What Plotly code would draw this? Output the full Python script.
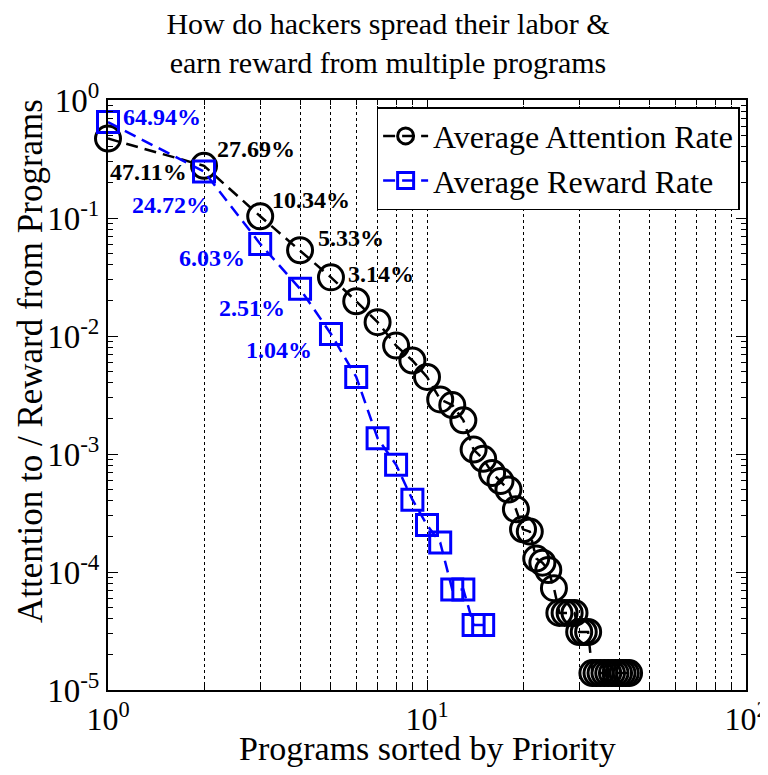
import math
import plotly.graph_objects as go

# ---- data ----
attention_x = list(range(1, 44))
attention_y = [0.4711, 0.2769, 0.1034, 0.0533, 0.0314, 0.0197, 0.0131, 0.0083, 0.0062, 0.0045,
               0.0029, 0.0026, 0.00193, 0.00109, 0.00091, 0.00069, 0.00059, 0.00050, 0.00034, 0.00023,
               0.00022, 0.00013, 0.00012, 0.000104, 0.000073,
               0.000045, 0.000045, 0.000045, 0.000045,
               0.000031, 0.000031, 0.000031,
               0.0000139, 0.0000139, 0.0000139, 0.0000139, 0.0000139, 0.0000139,
               0.0000139, 0.0000139, 0.0000139, 0.0000139, 0.0000139]
reward_x = list(range(1, 16))
reward_y = [0.6494, 0.2472, 0.0603, 0.0251, 0.0104, 0.0045, 0.00136, 0.00081, 0.00041, 0.00025,
            0.000178, 0.000071, 0.000071, 0.0000356, 0.0000356]
n_labels = 5
x_tickvals = [1, 10, 100]
x_ticktext = ["10<sup>0</sup>", "10<sup>1</sup>", "10<sup>2</sup>"]
y_tickvals = [1e-5, 1e-4, 1e-3, 1e-2, 1e-1, 1]
y_ticktext = ["10<sup>-5</sup>", "10<sup>-4</sup>", "10<sup>-3</sup>", "10<sup>-2</sup>",
              "10<sup>-1</sup>", "10<sup>0</sup>"]
title_text = "How do hackers spread their labor &<br>earn reward from multiple programs"
x_title = "Programs sorted by Priority"
y_title = "Attention to / Reward from Programs"

FONT = "Liberation Serif"
BLUE = "#0000FF"

fig = go.Figure()
fig.add_trace(go.Scatter(
    x=attention_x, y=attention_y, mode="lines+markers", name="Average Attention Rate",
    line=dict(color="black", width=2.5, dash="12px,7px"),
    marker=dict(symbol="circle-open", size=25, color="black", line=dict(width=3, color="black")),
    cliponaxis=False))
fig.add_trace(go.Scatter(
    x=reward_x, y=reward_y, mode="lines+markers", name="Average Reward Rate",
    line=dict(color=BLUE, width=2.5, dash="12px,7px"),
    marker=dict(symbol="square-open", size=21, color=BLUE, line=dict(width=3, color=BLUE)),
    cliponaxis=False))

# label placement (layout only): (xanchor, xshift, yshift)
att_place = [("left", 0, -33), ("left", 11, 17), ("left", 10, 16), ("left", 16, 12), ("left", 15, 3)]
rew_place = [("left", 13, 5), ("right", 8, -33), ("right", -13, -14), ("right", -13, -19), ("right", -17, -16)]

for i in range(n_labels):
    xa, xs, ys = att_place[i]
    fig.add_annotation(x=math.log10(attention_x[i]), y=math.log10(attention_y[i]), xref="x", yref="y",
                       text="<b>%.2f%%</b>" % (attention_y[i] * 100), showarrow=False,
                       xanchor=xa, yanchor="middle", xshift=xs, yshift=ys,
                       font=dict(family=FONT, size=24, color="black"))
    xa, xs, ys = rew_place[i]
    fig.add_annotation(x=math.log10(reward_x[i]), y=math.log10(reward_y[i]), xref="x", yref="y",
                       text="<b>%.2f%%</b>" % (reward_y[i] * 100), showarrow=False,
                       xanchor=xa, yanchor="middle", xshift=xs, yshift=ys,
                       font=dict(family=FONT, size=24, color=BLUE))

# axis titles placed as paper annotations (tight to the tick labels as in the original)
fig.add_annotation(x=0.5, y=0, xref="paper", yref="paper", text=x_title, showarrow=False,
                   xanchor="center", yanchor="middle", yshift=-58,
                   font=dict(family=FONT, size=34, color="black"))
fig.add_annotation(x=0, y=0.5, xref="paper", yref="paper", text=y_title, showarrow=False,
                   textangle=-90, xanchor="center", yanchor="middle", xshift=-78, yshift=34,
                   font=dict(family=FONT, size=35, color="black"))

x_minor = [m * 10 ** d for d in range(0, 2) for m in range(2, 10)]
y_minor = [m * 10.0 ** d for d in range(-5, 0) for m in range(2, 10)]

# the page body offsets the figure by 8px; size it so it fills the rest of the window
fig.update_layout(
    width=760, height=767,
    paper_bgcolor="white", plot_bgcolor="white",
    margin=dict(l=100, r=22, t=92, b=85, autoexpand=False),
    font=dict(family=FONT, color="black"),
    title=dict(text=title_text, x=0.5, xanchor="center", xref="container", y=0.966, yanchor="top",
               font=dict(family=FONT, size=30, color="black")),
    showlegend=True,
    legend=dict(x=0.99, xanchor="right", y=0.988, yanchor="top",
                bgcolor="white", bordercolor="black", borderwidth=1.5,
                font=dict(family=FONT, size=32, color="black"),
                tracegroupgap=0, itemwidth=45),
    xaxis=dict(type="log", range=[0, 2], tickvals=x_tickvals, ticktext=x_ticktext,
               ticks="inside", ticklen=10, tickwidth=1.2, tickcolor="black",
               showline=True, linecolor="black", linewidth=2, mirror="allticks",
               showgrid=True, gridcolor="black", griddash="dot", gridwidth=0.7,
               tickfont=dict(family=FONT, size=32, color="black"),
               ticklabeloverflow="allow", automargin=False,
               minor=dict(tickvals=x_minor, ticks="inside", ticklen=5, tickcolor="black",
                          showgrid=True, gridcolor="black", griddash="dot", gridwidth=0.7),
               zeroline=False),
    yaxis=dict(type="log", range=[-5, 0], tickvals=y_tickvals, ticktext=y_ticktext,
               ticks="inside", ticklen=10, tickwidth=1.2, tickcolor="black",
               showline=True, linecolor="black", linewidth=2, mirror="allticks",
               showgrid=False, automargin=False, ticklabeloverflow="allow",
               tickfont=dict(family=FONT, size=33, color="black"),
               minor=dict(tickvals=y_minor, ticks="inside", ticklen=5, tickcolor="black",
                          showgrid=False),
               zeroline=False),
)

fig.write_html("out.html")
